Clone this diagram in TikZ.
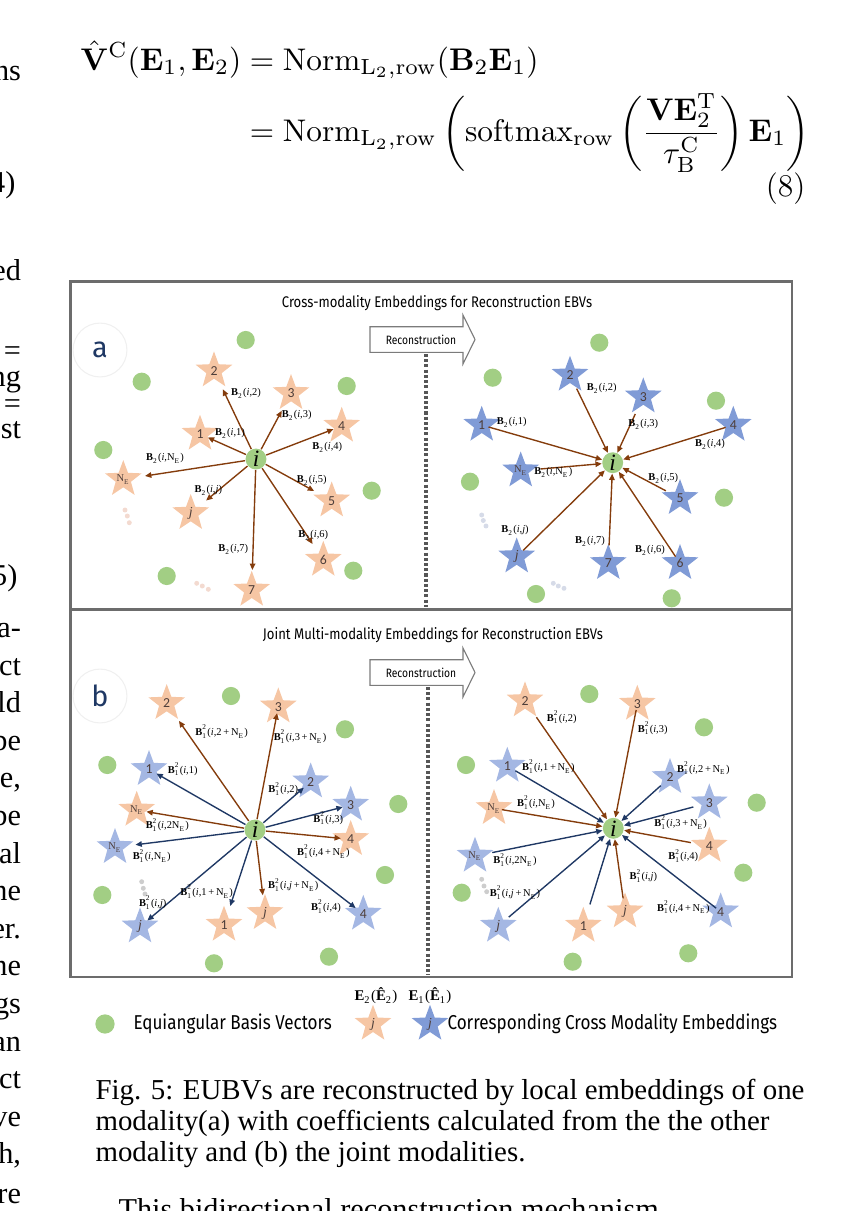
\documentclass[tikz,border=0pt]{standalone}
\usepackage{amsmath}
\usepackage[no-math]{fontspec}
\newfontfamily\tms{Liberation Serif}
\newfontfamily\cmc[FakeStretch=0.85]{Fira Sans}
\newfontfamily\cmcw{Fira Sans}
\newfontfamily\clb{Carlito}
\usetikzlibrary{shapes.geometric,arrows.meta}
\definecolor{ebvc}{RGB}{162,206,132}
\definecolor{orgc}{RGB}{246,198,164}
\definecolor{bluc}{RGB}{128,155,214}
\definecolor{blulc}{RGB}{164,183,227}
\definecolor{brnc}{RGB}{132,60,12}
\definecolor{nvyc}{RGB}{31,56,100}
\definecolor{frmc}{RGB}{108,108,108}
\definecolor{numc}{RGB}{78,62,58}
\definecolor{pkc}{RGB}{243,218,208}
\definecolor{gbc}{RGB}{214,219,232}
\definecolor{gyc}{RGB}{205,205,205}
\newcommand{\myNE}{N\textsubscript{E}}
\newcommand{\myBt}[1]{\textbf{B}\textsubscript{2}(\textit{i},#1)}
\newcommand{\myBo}[1]{\textbf{B}\rlap{\textsuperscript{2}}\textsubscript{1}(\textit{i},#1)}
\begin{document}
\begin{tikzpicture}[x=0.3636pt,y=-0.3636pt,
  ebv/.style={circle,fill=ebvc,minimum size=6.6pt,inner sep=0pt},
  ctr/.style={circle,fill=ebvc,minimum size=7.6pt,inner sep=0pt,font=\tms\itshape\fontsize{8.5}{8.5}\selectfont},
  ostar/.style={star,star points=5,star point ratio=2.4,fill=orgc,minimum size=14pt,inner sep=0pt},
  bstar/.style={ostar,fill=bluc},
  lstar/.style={ostar,fill=blulc},
  num/.style={font=\clb\fontsize{5}{5}\selectfont,text=numc,inner sep=0pt},
  snum/.style={font=\tms\fontsize{3.8}{4}\selectfont,text=numc,inner sep=0pt},
  jnum/.style={font=\tms\itshape\fontsize{5}{5}\selectfont,text=numc,inner sep=0pt},
  coef/.style={font=\tms\fontsize{3.8}{4}\selectfont,inner sep=0pt},
  br/.style={draw=brnc,line width=0.5pt,-{Triangle[length=2.3pt,width=2pt]}},
  nv/.style={br,draw=nvyc},
  framel/.style={draw=frmc,line width=1pt},
  sep/.style={draw=frmc!80!black,line width=1.1pt,dash pattern=on 1.1pt off 0.8pt},
  ttl/.style={font=\cmc\fontsize{5.6}{6.5}\selectfont,inner sep=0pt},
  recarr/.style={draw=frmc!90,line width=0.4pt,fill=white},
  rectxt/.style={font=\cmc\fontsize{4.4}{5}\selectfont,inner sep=0pt},
  pan/.style={circle,draw=black!6,line width=0.4pt,minimum size=19.6pt,inner sep=0pt,text=nvyc,font=\cmcw\fontsize{10.5}{11}\selectfont},
  frag/.style={font=\tms\fontsize{11}{12}\selectfont,anchor=mid east,inner sep=0pt},
  capt/.style={font=\tms\fontsize{10.5}{12}\selectfont,anchor=mid west,inner sep=0pt},
  leg/.style={font=\cmc\fontsize{7.3}{8}\selectfont,anchor=west,inner sep=0pt}
]
\useasboundingbox (0,0) rectangle (863,1211);
\clip (0,0) rectangle (863,1211);

% ---------- equation ----------
\node[anchor=base west,inner sep=0pt] (eq) at (80,70) {\resizebox{265pt}{!}{$\displaystyle\begin{aligned}[t]
\hat{\mathbf{V}}^{\mathrm{C}}(\mathbf{E}_1,\mathbf{E}_2)&=\mathrm{Norm}_{\mathrm{L}_2,\mathrm{row}}(\mathbf{B}_2\mathbf{E}_1)\\
&=\mathrm{Norm}_{\mathrm{L}_2,\mathrm{row}}\left(\mathrm{softmax}_{\mathrm{row}}\left(\frac{\mathbf{V}\mathbf{E}_2^{\mathrm{T}}}{\tau_{\mathrm{B}}^{\mathrm{C}}}\right)\mathbf{E}_1\right)
\end{aligned}$}};
\node[anchor=base east,inner sep=0pt,font=\fontsize{11.5}{12}\selectfont] (eqn) at (806,196) {(8)};

% ---------- left column fragments ----------
\node[frag] (f1) at (21.5,75) {ns};
\node[frag] (f2) at (16,187) {4)};
\node[frag] (f3) at (21.5,275) {ed};
\node[frag] (f4) at (21.5,355) {=};
\node[frag] (f5) at (21.5,381) {ng};
\node[frag] (f6) at (21.5,408) {=};
\node[frag] (f7) at (21.5,433) {st};
\node[frag] (f8) at (18,580) {5)};
\node[frag] (f9) at (21.5,632) {a-};
\node[frag] (f10) at (21.5,670) {ct};
\node[frag] (f11) at (21.5,707) {ld};
\node[frag] (f12) at (21.5,745) {be};
\node[frag] (f13) at (21.5,782) {e,};
\node[frag] (f14) at (21.5,820) {be};
\node[frag] (f15) at (21.5,858) {al};
\node[frag] (f16) at (21.5,895) {ne};
\node[frag] (f17) at (21.5,933) {er.};
\node[frag] (f18) at (21.5,970) {ne};
\node[frag] (f19) at (21.5,1008) {gs};
\node[frag] (f20) at (21.5,1046) {an};
\node[frag] (f21) at (21.5,1083) {ct};
\node[frag] (f22) at (21.5,1121) {ve};
\node[frag] (f23) at (21.5,1158) {h,};
\node[frag] (f24) at (21.5,1198) {re};

% ---------- frame ----------
\draw[framel] (70.5,281.3) rectangle (792,977);
\draw[framel] (70.5,609.5) -- (792,609.5);

% ---------- panel a ----------
\node[ttl] (ta) at (437,302.7) {Cross-modality Embeddings for Reconstruction EBVs};
\node[pan] (pa) at (100,350) {a};
\draw[recarr] (370,326.7) -- (463,326.7) -- (463,315) -- (475,339.5) -- (463,364) -- (463,352.3) -- (370,352.3) -- cycle;
\node[rectxt] (reca) at (421,340) {Reconstruction};
\draw[sep] (426,354) -- (426,607);

\foreach \p in {(245.7,340),(141.7,381.7),(346.7,386),(103.3,450),(371.7,490.7),(166.7,576),(353.3,570.7),
  (599.3,342.7),(492.7,377.7),(716,400.7),(470,481.7),(724,497.7),(536,594),(671.7,598.3)}
  \node[ebv] at \p {};
\foreach \p in {(125,510),(127.3,516),(129.3,522.7),(196.7,583.3),(202.3,586),(208.3,589.3)}
  \fill[pkc] \p circle (0.9pt);
\foreach \p in {(481.7,515),(483.3,520.5),(486,526),(553.3,583.3),(558.3,586),(564,588.3)}
  \fill[gbc] \p circle (0.9pt);

% left half a
\node[ctr] (ai) at (256,459) {i};
\node[ostar,label={[num]center:2}] (a2) at (214,370.7) {};
\node[ostar,label={[num]center:3}] (a3) at (291,393.3) {};
\node[ostar,label={[num]center:1}] (a1) at (200,434) {};
\node[ostar,label={[num]center:4}] (a4) at (341.7,426) {};
\node[ostar,label={[snum]center:\myNE}] (aNE) at (123.3,479.3) {};
\node[ostar,label={[jnum]center:j}] (aj) at (190.7,513.3) {};
\node[ostar,label={[num]center:5}] (a5) at (331.7,500.7) {};
\node[ostar,label={[num]center:6}] (a6) at (323.3,560) {};
\node[ostar,label={[num]center:7}] (a7) at (251.7,590) {};
\draw[br,shorten >=7.5pt] (ai) -- (a2.center);
\draw[br,shorten >=7.2pt] (ai) -- (a3.center);
\draw[br,shorten >=3.1pt] (ai) -- (a1.center);
\draw[br,shorten >=3.2pt] (ai) -- (a4.center);
\draw[br,shorten >=8pt] (ai) -- (aNE.center);
\draw[br,shorten >=7.3pt] (ai) -- (aj.center);
\draw[br,shorten >=7.3pt] (ai) -- (a5.center);
\draw[br,shorten >=7pt] (ai) -- (a6.center);
\draw[br,shorten >=7.3pt] (ai) -- (a7.center);
\node[coef] (la2) at (246,393.3) {\myBt{2}};
\node[coef] (la3) at (296.7,415) {\myBt{3}};
\node[coef] (la1) at (230,433.3) {\myBt{1}};
\node[coef] (la4) at (327.3,447.3) {\myBt{4}};
\node[coef] (laNE) at (165,458.3) {\myBt{\myNE}};
\node[coef] (laj) at (208.3,490.7) {\myBt{\textit{j}}};
\node[coef] (la5) at (311.7,480) {\myBt{5}};
\node[coef] (la6) at (313.3,535) {\myBt{6}};
\node[coef] (la7) at (233.3,549.3) {\myBt{7}};

% right half a
\node[ctr] (ci) at (612.7,462.7) {i};
\node[bstar,label={[num]center:2}] (c2) at (570,375) {};
\node[bstar,label={[num]center:3}] (c3) at (643.3,396.7) {};
\node[bstar,label={[num]center:1}] (c1) at (481.7,425) {};
\node[bstar,label={[num]center:4}] (c4) at (733.3,425) {};
\node[bstar,label={[snum]center:\myNE}] (cNE) at (520.7,470.7) {};
\node[bstar,label={[num]center:5}] (c5) at (680,498.3) {};
\node[bstar,label={[jnum]center:j}] (cj) at (516.7,556.7) {};
\node[bstar,label={[num]center:7}] (c7) at (608.3,563.3) {};
\node[bstar,label={[num]center:6}] (c6) at (680,563.3) {};
\draw[br,shorten <=2.6pt] (c1.center) -- (ci);
\draw[br,shorten <=5.5pt] (c2.center) -- (ci);
\draw[br,shorten <=6.9pt] (c3.center) -- (ci);
\draw[br,shorten <=2.9pt] (c4.center) -- (ci);
\draw[br,shorten <=7.3pt] (cNE.center) -- (ci);
\draw[br,shorten <=5.8pt] (c5.center) -- (ci);
\draw[br,shorten <=3.3pt] (cj.center) -- (ci);
\draw[br,shorten <=6.5pt] (c7.center) -- (ci);
\draw[br,shorten <=2.9pt] (c6.center) -- (ci);
\node[coef] (lc2) at (601.7,388.3) {\myBt{2}};
\node[coef] (lc1) at (511.7,422.7) {\myBt{1}};
\node[coef] (lc3) at (643.3,424) {\myBt{3}};
\node[coef] (lc4) at (710,444) {\myBt{4}};
\node[coef] (lcNE) at (553.3,472.7) {\myBt{\myNE}};
\node[coef] (lc5) at (663.3,478.3) {\myBt{5}};
\node[coef] (lcj) at (515,530.7) {\myBt{\textit{j}}};
\node[coef] (lc7) at (590,541.7) {\myBt{7}};
\node[coef] (lc6) at (650,550.7) {\myBt{6}};

% ---------- panel b ----------
\node[ttl] (tb) at (433,635) {Joint Multi-modality Embeddings for Reconstruction EBVs};
\node[pan] (pb) at (100,696) {b};
\draw[recarr] (370,659.7) -- (463,659.7) -- (463,648) -- (475,672.5) -- (463,697) -- (463,685.3) -- (370,685.3) -- cycle;
\node[rectxt] (recb) at (421,673) {Reconstruction};
\draw[sep] (428,687) -- (428,975);

\foreach \p in {(231,696),(345,729.3),(107.3,765),(398.3,804),(385,875),(102.3,895),(214,963.3),(329,956.7),
  (589.3,694),(704,727.3),(466,765),(756.7,802.7),(743.3,872.7),(461.7,892.7),(572.7,961.7),(688.3,953.3)}
  \node[ebv] at \p {};
\foreach \p in {(141.7,881.7),(143.3,888.3),(145,894),(481.7,879.3),(484,886),(486.7,891.7)}
  \fill[gyc] \p circle (0.9pt);

% left half b
\node[ctr] (bi) at (255,830) {i};
\node[ostar,label={[num]center:2}] (bo2) at (166.7,703.3) {};
\node[ostar,label={[num]center:3}] (bo3) at (278.3,706.7) {};
\node[lstar,label={[num]center:1}] (bb1) at (149,769.3) {};
\node[lstar,label={[num]center:2}] (bb2) at (310.7,781.7) {};
\node[ostar,label={[snum]center:\myNE}] (boNE) at (136.7,810) {};
\node[lstar,label={[num]center:3}] (bb3) at (350.7,805) {};
\node[ostar,label={[num]center:4}] (bo4) at (350.7,839.3) {};
\node[lstar,label={[snum]center:\myNE}] (bbNE) at (115,847.3) {};
\node[ostar,label={[jnum]center:j}] (boj) at (265,913.3) {};
\node[ostar,label={[num]center:1}] (bo1) at (224,925) {};
\node[lstar,label={[jnum]center:j}] (bbj) at (140,926.7) {};
\node[lstar,label={[num]center:4}] (bb4) at (363.3,914) {};
\draw[br,shorten >=7.8pt] (bi) -- (bo2.center);
\draw[br,shorten >=2.4pt] (bi) -- (bo3.center);
\draw[nv,shorten >=3.1pt] (bi) -- (bb1.center);
\draw[nv,shorten >=3.3pt] (bi) -- (bb2.center);
\draw[br,shorten >=3.6pt] (bi) -- (boNE.center);
\draw[nv,shorten >=3pt] (bi) -- (bb3.center);
\draw[br,shorten >=3.6pt] (bi) -- (bo4.center);
\draw[nv,shorten >=7.5pt] (bi) -- (bbNE.center);
\draw[br,shorten >=6.6pt] (bi) -- (boj.center);
\draw[nv,shorten >=7.3pt] (bi) -- (bo1.center);
\draw[nv,shorten >=3.5pt] (bi) -- (bbj.center);
\draw[nv,shorten >=3.5pt] (bi) -- (bb4.center);
\node[coef] (lb1) at (221.7,731.7) {\myBo{2\,+\,\myNE}};
\node[coef] (lb2) at (300,736.7) {\myBo{3\,+\,\myNE}};
\node[coef] (lb3) at (182.7,769.3) {\myBo{1}};
\node[coef] (lb4) at (283.3,789) {\myBo{2}};
\node[coef] (lb5) at (167.3,825) {\myBo{2\myNE}};
\node[coef] (lb6) at (328.3,818.3) {\myBo{3}};
\node[coef] (lb7) at (323.3,851.7) {\myBo{4\,+\,\myNE}};
\node[coef] (lb8) at (151.7,856) {\myBo{\myNE}};
\node[coef] (lb9) at (293.3,885) {\myBo{\textit{j}\,+\,\myNE}};
\node[coef] (lb10) at (206.7,891.7) {\myBo{1\,+\,\myNE}};
\node[coef] (lb11) at (152.7,902.7) {\myBo{\textit{j}}};
\node[coef] (lb12) at (326,906.7) {\myBo{4}};

% right half b
\node[ctr] (di) at (613.3,828.3) {i};
\node[ostar,label={[num]center:2}] (do2) at (525,700.7) {};
\node[ostar,label={[num]center:3}] (do3) at (637.3,704) {};
\node[lstar,label={[num]center:1}] (db1) at (507.3,766) {};
\node[lstar,label={[num]center:2}] (db2) at (670,777.3) {};
\node[ostar,label={[snum]center:\myNE}] (doNE) at (494,808.3) {};
\node[lstar,label={[num]center:3}] (db3) at (709.3,802.7) {};
\node[ostar,label={[num]center:4}] (do4) at (709.3,846) {};
\node[lstar,label={[snum]center:\myNE}] (dbNE) at (475,856) {};
\node[lstar,label={[jnum]center:j}] (dbj) at (498.3,926) {};
\node[ostar,label={[num]center:1}] (do1) at (583.3,926) {};
\node[ostar,label={[jnum]center:j}] (doj) at (625,911.7) {};
\node[lstar,label={[num]center:4}] (db4) at (720.7,911.7) {};
\draw[br,shorten <=7.3pt] (do2.center) -- (di);
\draw[br,shorten <=2.2pt] (do3.center) -- (di);
\draw[nv,shorten <=3.4pt] (db1.center) -- (di);
\draw[nv,shorten <=4.5pt] (db2.center) -- (di);
\draw[br,shorten <=2.9pt] (doNE.center) -- (di);
\draw[nv,shorten <=6pt] (db3.center) -- (di);
\draw[br,shorten <=6.8pt] (do4.center) -- (di);
\draw[nv,shorten <=6.4pt] (dbNE.center) -- (di);
\draw[nv,shorten <=5pt] (dbj.center) -- (di);
\draw[nv,shorten <=8.2pt] (do1.center) -- (di);
\draw[br,shorten <=4.9pt] (doj.center) -- (di);
\draw[nv,shorten <=2.1pt] (db4.center) -- (di);
\node[coef] (ld1) at (561.7,717.3) {\myBo{2}};
\node[coef] (ld2) at (652.7,728.3) {\myBo{3}};
\node[coef] (ld3) at (548.3,766.7) {\myBo{1\,+\,\myNE}};
\node[coef] (ld4) at (703.3,768.3) {\myBo{2\,+\,\myNE}};
\node[coef] (ld5) at (536,802.7) {\myBo{\myNE}};
\node[coef] (ld6) at (680.7,822.7) {\myBo{3\,+\,\myNE}};
\node[coef] (ld7) at (683.3,856) {\myBo{4}};
\node[coef] (ld8) at (515,860) {\myBo{2\myNE}};
\node[coef] (ld9) at (643.3,876) {\myBo{\textit{j}}};
\node[coef] (ld10) at (515,892.7) {\myBo{\textit{j}\,+\,\myNE}};
\node[coef] (ld11) at (683.3,907.3) {\myBo{4\,+\,\myNE}};

% ---------- legend ----------
\node[ebv,minimum size=7pt] (lgdot) at (105,1024) {};
\node[leg] (lgt1) at (133,1024) {Equiangular Basis Vectors};
\node[ostar,label={[jnum]center:j}] (lgo) at (373,1024) {};
\node[bstar,label={[jnum]center:j}] (lgb) at (430,1024) {};
\node[leg] (lgt2) at (447,1024) {Corresponding Cross Modality Embeddings};
\node[font=\tms\fontsize{5.4}{6}\selectfont,inner sep=0pt] (lge2) at (376,996) {\textbf{E}\textsubscript{2}(\textbf{\^E}\textsubscript{2})};
\node[font=\tms\fontsize{5.4}{6}\selectfont,inner sep=0pt] (lge1) at (430,996) {\textbf{E}\textsubscript{1}(\textbf{\^E}\textsubscript{1})};

% ---------- caption ----------
\node[capt] (c1l) at (95,1094) {Fig. 5: EUBVs are reconstructed by local embeddings of one};
\node[capt] (c2l) at (95,1125) {modality(a) with coefficients calculated from the the other};
\node[capt] (c3l) at (95,1156) {modality and (b) the joint modalities.};
\node[font=\tms\fontsize{11}{12}\selectfont,anchor=base west,inner sep=0pt] (nextl) at (118,1219) {This bidirectional reconstruction mechanism};
\end{tikzpicture}
\end{document}
